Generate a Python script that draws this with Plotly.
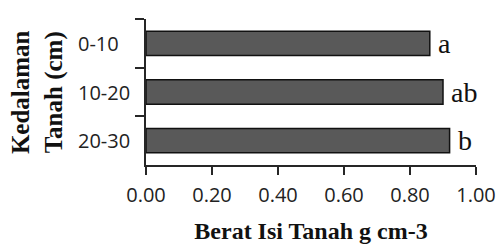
import plotly.graph_objects as go

categories = ["0-10", "10-20", "20-30"]
values = [0.86, 0.90, 0.92]
letters = ["a", "ab", "b"]
x_ticks = [0.0, 0.2, 0.4, 0.6, 0.8, 1.0]

axis_col = "#262626"

fig = go.Figure()
fig.add_trace(go.Bar(
    y=categories, x=values, orientation="h", width=0.5,
    marker=dict(color="#595959", line=dict(color="#111111", width=1.5)),
    showlegend=False, hoverinfo="skip",
))

for c, v, t in zip(categories, values, letters):
    fig.add_annotation(x=v, y=c, xref="x", yref="y", text=t, showarrow=False,
                       xanchor="left", yanchor="middle", xshift=6,
                       font=dict(family="Liberation Serif", size=28, color="#111111"))

# left-aligned category labels
for c in categories:
    fig.add_annotation(x=-0.212, y=c, xref="paper", yref="y", text=c, showarrow=False,
                       xanchor="left", yanchor="middle",
                       font=dict(family="Open Sans", size=20, color="#222222"))

fig.add_annotation(x=-0.33, y=0.5, xref="paper", yref="paper",
                   text="<b>Kedalaman<br>Tanah (cm)</b>", textangle=-90, showarrow=False,
                   xanchor="center", yanchor="middle",
                   font=dict(family="Liberation Serif", size=25, color="#111111"))

fig.update_layout(
    width=499, height=244,
    margin=dict(l=146, r=23, t=19, b=79, autoexpand=False),
    paper_bgcolor="white", plot_bgcolor="white",
    bargap=0.5,
    xaxis=dict(
        range=[0, 1], tickvals=x_ticks, tickformat=".2f", automargin=False,
        ticks="outside", ticklen=8, tickwidth=1.5, tickcolor=axis_col,
        ticklabelstandoff=3,
        showline=True, linecolor=axis_col, linewidth=1.5,
        showgrid=False, zeroline=False,
        tickfont=dict(family="Open Sans", size=20, color="#222222"),
        title=dict(text="<b>Berat Isi Tanah g cm-3</b>", standoff=18,
                   font=dict(family="Liberation Serif", size=24, color="#111111")),
    ),
    yaxis=dict(
        categoryorder="array", categoryarray=categories, autorange="reversed",
        automargin=False, showticklabels=False,
        tickson="boundaries", ticks="outside", ticklen=9, tickwidth=1.5, tickcolor=axis_col,
        showline=True, linecolor=axis_col, linewidth=1.5,
        showgrid=False, zeroline=False,
    ),
)

fig.write_html("out.html", config={"displayModeBar": False},
               post_script="document.body.style.margin='0';document.body.style.overflow='hidden';")
